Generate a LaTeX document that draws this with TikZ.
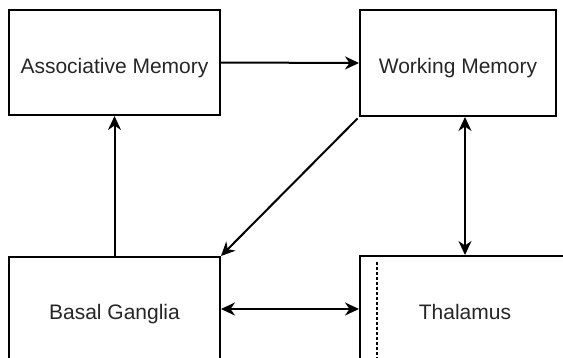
\documentclass[tikz,border=0pt]{standalone}
\usepackage{fontspec}
\setmainfont{Liberation Sans}
\usetikzlibrary{arrows.meta,calc}
\begin{document}
\begin{tikzpicture}[x=1pt,y=-1pt,
  box/.style={draw=black,line width=2pt,rectangle,inner sep=0pt},
  txt/.style={text=black!85,font=\fontsize{21}{24}\selectfont,inner sep=0pt,text depth=0pt,yshift=-3pt},
  conn/.style={line width=2pt,draw=black},
  tip/.style={-{Stealth[length=14pt,width=13pt,inset=4.5pt]}},
  tips/.style={{Stealth[length=14pt,width=13pt,inset=4.5pt]}-{Stealth[length=14pt,width=13pt,inset=4.5pt]}}]
\useasboundingbox (0,0) rectangle (563,357);
\node[box,minimum width=211pt,minimum height=105pt,label={[txt]center:Associative Memory}] (am) at (114.5,62.5) {};
\node[box,minimum width=196pt,minimum height=106pt,label={[txt]center:Working Memory}] (wm) at (458,63) {};
\node[box,minimum width=211pt,minimum height=104pt,label={[txt]center:Basal Ganglia}] (bg) at (114.5,309) {};
\node[box,minimum width=210pt,minimum height=106pt,label={[txt]center:Thalamus}] (th) at (465,309) {};
\coordinate (dtop) at ($(th.north west)+(18,7)$);
\coordinate (dbot) at ($(th.south west)+(18,0)$);
\draw[line width=1.8pt,dash pattern=on 2.5pt off 2.5pt] (dtop) -- (dbot);
\draw[conn,tip] (am.east) -- (wm.west);
\draw[conn,tip] (bg.north) -- (am.south);
\draw[conn,tip,shorten <=2pt] (wm.south west) -- (bg.north east);
\draw[conn,tips] (th.north |- wm.south) -- (th.north);
\draw[conn,tips] (bg.east) -- (th.west);
\end{tikzpicture}
\end{document}
